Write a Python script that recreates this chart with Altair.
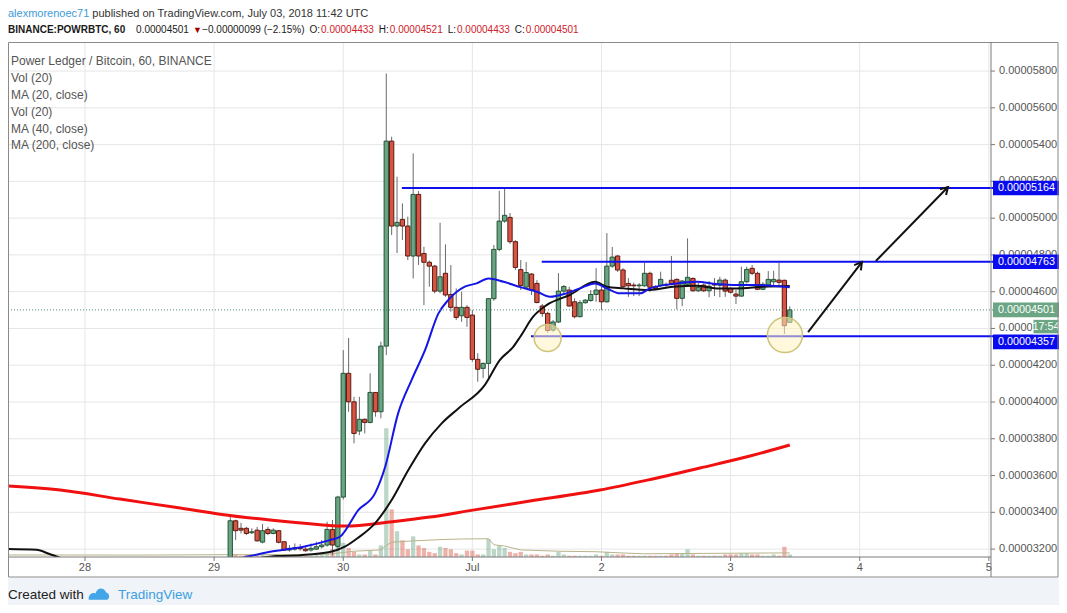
import math
import altair as alt
import pandas as pd

# ------------------------------------------------------------------ data
# hourly candles, hour index counted from 28 Jun 00:00; prices in satoshi
hours = list(range(27, 132))
opens = [3130, 3354, 3313, 3313, 3289, 3303, 3238, 3307, 3285, 3300,
         3240, 3195, 3200, 3204, 3200, 3195, 3200, 3213, 3222, 3307,
         3215, 3483, 4156, 4001, 3842, 3906, 3889, 4052, 3947, 4304,
         5419, 4957, 4993, 4957, 4794, 5129, 4808, 4760, 4739, 4603,
         4700, 4585, 4515, 4469, 4515, 4473, 4232, 4183, 4210, 4562,
         4830, 4984, 5004, 4872, 4720, 4625, 4696, 4645, 4522, 4482,
         4391, 4435, 4603, 4609, 4545, 4464, 4540, 4552, 4585, 4609,
         4545, 4739, 4794, 4718, 4645, 4636, 4632, 4632, 4700, 4627,
         4635, 4640, 4662, 4667, 4564, 4640, 4672, 4605, 4636, 4605,
         4640, 4635, 4663, 4618, 4587, 4576, 4654, 4727, 4700, 4613,
         4636, 4654, 4663, 4662, 4433]
highs = [3380, 3360, 3343, 3321, 3313, 3321, 3336, 3321, 3313, 3303,
         3240, 3222, 3231, 3227, 3213, 3231, 3240, 3249, 3349, 3358,
         3490, 4282, 4348, 4028, 4028, 3910, 4156, 4052, 4328, 5787,
         5443, 5225, 5080, 5008, 5352, 5147, 4844, 4770, 4745, 4975,
         4857, 4745, 4618, 4600, 4527, 4500, 4265, 4215, 4562, 4854,
         5149, 5162, 5028, 4880, 4772, 4761, 4701, 4663, 4533, 4491,
         4446, 4701, 4636, 4627, 4564, 4554, 4560, 4609, 4728, 4627,
         4919, 4843, 4800, 4728, 4674, 4650, 4647, 4757, 4709, 4636,
         4709, 4650, 4794, 4672, 4663, 4890, 4678, 4647, 4645, 4658,
         4674, 4681, 4672, 4625, 4609, 4736, 4736, 4745, 4709, 4652,
         4712, 4714, 4757, 4665, 4521]
lows = [3120, 3249, 3285, 3276, 3282, 3240, 3231, 3276, 3280, 3231,
        3189, 3186, 3191, 3191, 3186, 3186, 3195, 3204, 3213, 3167,
        3190, 3470, 3947, 3775, 3820, 3829, 3884, 3920, 3911, 4255,
        4908, 4810, 4881, 4772, 4672, 4745, 4527, 4627, 4591, 4591,
        4572, 4491, 4446, 4436, 4409, 4219, 4110, 4130, 4120, 4550,
        4820, 4975, 4860, 4718, 4609, 4618, 4582, 4537, 4464, 4377,
        4382, 4430, 4591, 4518, 4455, 4460, 4535, 4545, 4545, 4500,
        4540, 4730, 4708, 4618, 4572, 4576, 4576, 4627, 4600, 4609,
        4627, 4627, 4636, 4504, 4522, 4627, 4600, 4598, 4598, 4570,
        4576, 4570, 4572, 4590, 4533, 4572, 4645, 4690, 4609, 4609,
        4627, 4627, 4627, 4370, 4433]
closes = [3354, 3300, 3303, 3285, 3294, 3245, 3300, 3285, 3303, 3237,
          3195, 3204, 3207, 3202, 3191, 3204, 3213, 3222, 3307, 3222,
          3483, 4156, 4001, 3829, 3906, 3889, 4052, 3947, 4304, 5419,
          4957, 4977, 4957, 4794, 5129, 4794, 4760, 4739, 4603, 4681,
          4582, 4515, 4460, 4515, 4460, 4232, 4178, 4210, 4562, 4830,
          4984, 5015, 4872, 4732, 4633, 4704, 4609, 4541, 4482, 4389,
          4435, 4603, 4628, 4522, 4464, 4540, 4554, 4585, 4609, 4545,
          4739, 4788, 4718, 4627, 4632, 4632, 4636, 4700, 4624, 4618,
          4667, 4636, 4645, 4564, 4658, 4678, 4605, 4624, 4605, 4630,
          4636, 4663, 4603, 4597, 4576, 4654, 4721, 4700, 4613, 4640,
          4667, 4667, 4651, 4415, 4501]
volumes = [5, 2, 1, 2, 1, 2, 2, 1, 1, 2,
           2, 1, 1, 1, 1, 1, 2, 2, 3, 6,
           13, 11, 7, 4, 2, 2, 5, 2, 9, 100,
           37, 20, 13, 6, 16, 9, 7, 4, 3, 8,
           7, 6, 3, 2, 5, 5, 2, 2, 14, 6,
           9, 7, 4, 3, 4, 2, 2, 2, 1, 2,
           1, 4, 2, 1, 1, 1, 1, 1, 2, 1,
           4, 2, 2, 2, 1, 1, 1, 1, 1, 1,
           1, 1, 2, 3, 3, 6, 2, 1, 1, 1,
           1, 1, 2, 2, 2, 3, 3, 2, 2, 1,
           1, 2, 1, 8, 2]

vol_ma_h = [-14.5, 10, 27, 44, 47, 50, 55, 56, 57, 61, 66, 70, 75, 76, 78,
            81, 88, 95, 100, 104, 115, 131]
vol_ma_v = [1.6, 1.5, 1.8, 1.9, 3.0, 4.5, 5.5, 9.0, 11.5, 12.5, 13.5, 14.0,
            14.2, 9.5, 8.5, 5.5, 4.5, 4.1, 3.1, 2.5, 2.8, 3.2]

ma20_h = [25, 30.7, 34.4, 40.6, 45.5, 47.4, 50.8, 53.9, 55.8, 58.2, 60.7,
          63.2, 65.7, 67.5, 70.6, 72.8, 75.0, 77.8, 80.9, 84.0, 86.4, 89.5,
          92.0, 94.8, 97.0, 99.4, 103.2, 105.0, 109.3, 113.7, 117.4, 121.1,
          124.8, 131.0]
ma20_v = [3120, 3162, 3185, 3213, 3249, 3267, 3412, 3503, 3648, 3938, 4119,
          4282, 4482, 4554, 4627, 4645, 4672, 4654, 4625, 4600, 4572, 4591,
          4618, 4645, 4618, 4591, 4591, 4618, 4642, 4654, 4642, 4636,
          4636, 4624]

ma40_h = [-14.5, -9, -6.5, -2, 10, 25, 35.7, 40.0, 45.5, 48.3, 50.7, 53.9,
          57.0, 60.1, 63.2, 66.3, 69.4, 74.3, 77.1, 79.6, 80.9, 83.3, 85.8,
          90.1, 94.8, 97.0, 100.1, 105.0, 109.3, 113.7, 117.4, 121.1, 126.1,
          131.0]
ma40_v = [3200, 3196, 3172, 3130, 3100, 3120, 3162, 3167, 3184, 3213, 3260,
          3340, 3467, 3630, 3775, 3884, 3965, 4092, 4228, 4300, 4355, 4464,
          4527, 4582, 4654, 4627, 4618, 4609, 4627, 4632, 4618, 4618, 4627,
          4631]

ma200_h = [-14.5, -4.6, 6.5, 17.7, 25.1, 34.4, 43.7, 48.3, 57.1, 64.1, 72.1,
           82.7, 95.7, 104.5, 114.3, 123.6, 131.0]
ma200_v = [3543, 3521, 3472, 3423, 3390, 3358, 3333, 3325, 3349, 3374, 3412,
           3461, 3521, 3575, 3641, 3706, 3766]

# drawn levels (start hour, price); the lowest price tag is pushed down on the scale
level_start = [58.9, 84.9, 82.9]
level_price = [5164, 4763, 4357]
level_tag_shift_px = [0, 0, 5.5]
last_price = 4501
countdown = "17:54"

# arrows (hour, price)
arrow_h1 = [134.4, 147.0]
arrow_p1 = [4380, 4767]
arrow_h2 = [144.4, 160.4]
arrow_p2 = [4761, 5169]

# highlighted lows (hour, price, diameter in px)
circle_h = [86.0, 130.1]
circle_p = [4348, 4364]
circle_d = [27, 35]

day_ticks = [0, 24, 48, 72, 96, 120, 144, 168]
day_labels = ["28", "29", "30", "Jul", "2", "3", "4", "5"]
price_ticks = list(range(3200, 5801, 200))

assert len(opens) == len(highs) == len(lows) == len(closes) == len(volumes) == len(hours)

# ------------------------------------------------------------------ layout
SAT = 1e-8
PLOT_W, PLOT_H = 983, 515
X_DOM = [-14.31, 168.4]
Y_DOM_SAT = [3157, 5958]
VOL_MAX = 400          # volume pane: full plot height would equal this volume
px_per_h = PLOT_W / (X_DOM[1] - X_DOM[0])
sat_per_px = (Y_DOM_SAT[1] - Y_DOM_SAT[0]) / PLOT_H
vol_to_sat = (PLOT_H / VOL_MAX) * sat_per_px

FONT = "Liberation Sans, Arial, sans-serif"
AXFONT = "Liberation Sans, Arial, sans-serif"
GRID = "#e6e6e6"
AXCOL = "#7a7a7a"
LABCOL = "#555555"

ARIAL = {" ": 278, ".": 278, ",": 278, ":": 278, "(": 333, ")": 333, "%": 889,
         "\u2212": 584, "-": 333, "/": 278, "\u25bc": 700,
         "A": 667, "B": 667, "C": 722, "D": 722, "E": 667, "H": 722, "I": 278,
         "L": 556, "N": 722, "O": 778, "P": 667, "R": 722, "T": 611, "U": 722,
         "V": 667, "W": 944, "J": 500,
         "a": 556, "b": 556, "c": 500, "d": 556, "e": 556, "f": 278, "g": 556,
         "h": 556, "i": 222, "l": 222, "m": 833, "n": 556, "o": 556, "p": 556,
         "r": 333, "s": 500, "t": 278, "u": 556, "v": 500, "w": 722, "x": 500,
         "y": 500}

def tw(s, size, bold=False):
    return sum(ARIAL.get(ch, 556) for ch in s) / 1000.0 * size * (1.07 if bold else 1.0)

xs = alt.Scale(domain=X_DOM, nice=False, zero=False)
ys = alt.Scale(domain=[v * SAT for v in Y_DOM_SAT], nice=False, zero=False)

def X(f):
    return alt.X(f, type="quantitative", scale=xs, axis=None)

def Y(f):
    return alt.Y(f, type="quantitative", scale=ys, axis=None)

# ---------------- axes drawn from the tick lists through the scales
xt = pd.DataFrame({"h": day_ticks, "lab": day_labels})
yt = pd.DataFrame({"p": [v * SAT for v in price_ticks],
                   "lab": ["%.8f" % (v * SAT) for v in price_ticks]})
x_grid = alt.Chart(xt).mark_rule(color=GRID, strokeWidth=1).encode(
    x=X("h"), y=alt.value(0), y2=alt.value(PLOT_H))
y_grid = alt.Chart(yt).mark_rule(color=GRID, strokeWidth=1).encode(
    y=Y("p"), x=alt.value(0), x2=alt.value(PLOT_W))
x_ticks = alt.Chart(xt).mark_rule(color=AXCOL, strokeWidth=1).encode(
    x=X("h"), y=alt.value(PLOT_H), y2=alt.value(PLOT_H + 4))
x_labels = alt.Chart(xt).mark_text(baseline="middle", align="center", font=AXFONT,
                                   fontSize=11, color=LABCOL).encode(
    x=X("h"), y=alt.value(PLOT_H + 11), text="lab:N")
y_ticks = alt.Chart(yt).mark_rule(color=AXCOL, strokeWidth=1).encode(
    y=Y("p"), x=alt.value(PLOT_W), x2=alt.value(PLOT_W + 4))
y_labels = alt.Chart(yt).mark_text(baseline="middle", align="left", font=AXFONT,
                                   fontSize=11, color=LABCOL).encode(
    y=Y("p"), x=alt.value(PLOT_W + 8), text="lab:N")

cdf = pd.DataFrame({"h": hours, "o": opens, "hi": highs, "lo": lows, "c": closes, "vol": volumes})
cdf["dir"] = ["up" if c >= o else "down" for o, c in zip(cdf.o, cdf.c)]
cdf["x0"] = cdf.h - 0.4
cdf["x1"] = cdf.h + 0.4
cdf["top"] = cdf[["o", "c"]].max(axis=1) * SAT
cdf["bot"] = cdf[["o", "c"]].min(axis=1) * SAT
cdf["hi_p"] = cdf.hi * SAT
cdf["lo_p"] = cdf.lo * SAT
cdf["v0"] = Y_DOM_SAT[0] * SAT
cdf["v1"] = (Y_DOM_SAT[0] + cdf.vol * vol_to_sat) * SAT

dir_scale_fill = alt.Scale(domain=["up", "down"], range=["#6ba583", "#d75442"])
dir_scale_stroke = alt.Scale(domain=["up", "down"], range=["#225437", "#5b1a13"])

vol_bars = alt.Chart(cdf).mark_rect(opacity=0.45, clip=True).encode(
    x=X("x0"), x2="x1", y=Y("v1"), y2="v0",
    fill=alt.Fill("dir:N", scale=dir_scale_fill, legend=None))
vma = pd.DataFrame({"h": vol_ma_h, "p": [(Y_DOM_SAT[0] + v * vol_to_sat) * SAT for v in vol_ma_v]})
vol_ma = alt.Chart(vma).mark_line(color="#b8b48a", strokeWidth=1, clip=True).encode(
    x=X("h"), y=Y("p"))

wicks = alt.Chart(cdf).mark_rule(color="#6a6a6a", strokeWidth=1, clip=True).encode(
    x=X("h"), y=Y("lo_p"), y2="hi_p")

bodies = alt.Chart(cdf).mark_rect(strokeWidth=1, clip=True).encode(
    x=X("x0"), x2="x1", y=Y("top"), y2="bot",
    fill=alt.Fill("dir:N", scale=dir_scale_fill, legend=None),
    stroke=alt.Stroke("dir:N", scale=dir_scale_stroke, legend=None))

def ma_line(hs, vs, color, width):
    d = pd.DataFrame({"h": hs, "p": [v * SAT for v in vs]})
    return alt.Chart(d).mark_line(color=color, strokeWidth=width, clip=True,
                                  interpolate="monotone").encode(x=X("h"), y=Y("p"))

ma200 = ma_line(ma200_h, ma200_v, "#f01010", 3)
ma40 = ma_line(ma40_h, ma40_v, "#111111", 2)
ma20 = ma_line(ma20_h, ma20_v, "#1515e6", 2)

HALF_TAG = 7.3
lvl = pd.DataFrame({"h": level_start, "p": [v * SAT for v in level_price],
                    "txt": ["%.8f" % (v * SAT) for v in level_price]})
lvl["tag"] = [(v - s * sat_per_px) * SAT for v, s in zip(level_price, level_tag_shift_px)]
lvl["p0"] = lvl.tag - HALF_TAG * sat_per_px * SAT
lvl["p1"] = lvl.tag + HALF_TAG * sat_per_px * SAT
levels = alt.Chart(lvl).mark_rule(color="#1010ee", strokeWidth=2).encode(
    x=X("h"), x2=alt.value(PLOT_W + 2), y=Y("p"))
lvl_box = alt.Chart(lvl).mark_rect(color="#0a0af0").encode(
    x=alt.value(PLOT_W + 2), x2=alt.value(PLOT_W + 68), y=Y("p0"), y2="p1")
lvl_txt = alt.Chart(lvl).mark_text(align="left", baseline="middle", color="white",
                                   font=AXFONT, fontSize=10.8).encode(
    x=alt.value(PLOT_W + 7), y=Y("tag"), text="txt:N")

cur = pd.DataFrame({"p": [last_price * SAT], "txt": ["%.8f" % (last_price * SAT)]})
cur["p0"] = cur.p - HALF_TAG * sat_per_px * SAT
cur["p1"] = cur.p + HALF_TAG * sat_per_px * SAT
cur["q"] = cur.p - 16.7 * sat_per_px * SAT
cur["q0"] = cur.q - HALF_TAG * sat_per_px * SAT
cur["q1"] = cur.q + HALF_TAG * sat_per_px * SAT
cur_line = alt.Chart(cur).mark_rule(color="#4d8a74", strokeWidth=1, strokeDash=[1, 2]).encode(
    x=alt.value(0), x2=alt.value(PLOT_W + 2), y=Y("p"))
cur_box = alt.Chart(cur).mark_rect(color="#6ba583").encode(
    x=alt.value(PLOT_W + 2), x2=alt.value(PLOT_W + 68), y=Y("p0"), y2="p1")
cur_txt = alt.Chart(cur).mark_text(align="left", baseline="middle", color="white",
                                   font=AXFONT, fontSize=10.8).encode(
    x=alt.value(PLOT_W + 7), y=Y("p"), text="txt:N")
cd_box = alt.Chart(cur).mark_rect(color="#6ba583", stroke="white", strokeWidth=1).encode(
    x=alt.value(PLOT_W + 42), x2=alt.value(PLOT_W + 68), y=Y("q0"), y2="q1")
cd_txt = alt.Chart(cur).mark_text(align="center", baseline="middle", color="white",
                                  font=AXFONT, fontSize=10.8, text=countdown).encode(
    x=alt.value(PLOT_W + 55), y=Y("q"))

circ = pd.DataFrame({"h": circle_h, "p": [v * SAT for v in circle_p],
                     "s": [d * d for d in circle_d]})
circles = alt.Chart(circ).mark_point(shape="circle", filled=True, fill="#fff3c0",
                                     fillOpacity=0.55, stroke="#cdc47a", strokeWidth=1.5,
                                     strokeOpacity=1).encode(
    x=X("h"), y=Y("p"), size=alt.Size("s:Q", scale=None))

arr_rows = []
for i in range(len(arrow_h1)):
    arr_rows.append({"id": i, "h": arrow_h1[i], "p": arrow_p1[i] * SAT})
    arr_rows.append({"id": i, "h": arrow_h2[i], "p": arrow_p2[i] * SAT})
arr = pd.DataFrame(arr_rows)
arrows = alt.Chart(arr).mark_line(color="#111", strokeWidth=2).encode(
    x=X("h"), y=Y("p"), detail="id:N")
heads = pd.DataFrame({
    "h": arrow_h2, "p": [v * SAT for v in arrow_p2],
    "ang": [math.degrees(math.atan2((h2 - h1) * px_per_h, (p2 - p1) / sat_per_px))
            for h1, h2, p1, p2 in zip(arrow_h1, arrow_h2, arrow_p1, arrow_p2)]})
arrow_heads = alt.Chart(heads).mark_point(shape="M-0.6,1L0,0L0.6,1", filled=False,
                                          stroke="#111", strokeWidth=2, size=200,
                                          opacity=1).encode(
    x=X("h"), y=Y("p"), angle=alt.Angle("ang:Q", scale=None))

one = pd.DataFrame({"a": [0]})

def label(text, x, y, color="#333", size=12, font=FONT, weight="normal", align="left"):
    return alt.Chart(one).mark_text(text=text, align=align, baseline="middle", font=font,
                                    fontSize=size, fontWeight=weight, color=color).encode(
        x=alt.value(x), y=alt.value(y))

RED = "#d0202a"
DARK = "#1a1a1a"
header = []
# line 1
H1 = 11
user = "alexmorenoec71"
header.append(label(user, 0, -28, color="#3d9ad8", size=H1))
header.append(label("published on TradingView.com, July 03, 2018 11:42 UTC",
                    tw(user, H1) + 3, -28, color="#333", size=H1))
# line 2
H2 = 10
segs = [("BINANCE:POWRBTC, 60", DARK, True, 5), ("0.00004501", DARK, False, 4),
        ("\u25bc", "#a00000", False, 3), ("\u22120.00000099 (\u22122.15%)", DARK, False, 5),
        ("O:", DARK, False, 1), ("0.00004433", RED, False, 5),
        ("H:", DARK, False, 1), ("0.00004521", RED, False, 5),
        ("L:", DARK, False, 1), ("0.00004433", RED, False, 5),
        ("C:", DARK, False, 1), ("0.00004501", RED, False, 0)]
cx = 0.0
for text, col, bold, gap in segs:
    sz = 9 if text == "\u25bc" else H2
    header.append(label(text, cx, -12, color=col, size=sz, weight="bold" if bold else "normal"))
    cx += tw(text, sz, bold) + gap

legend_lines = ["Power Ledger / Bitcoin, 60, BINANCE", "Vol (20)", "MA (20, close)",
                "Vol (20)", "MA (40, close)", "MA (200, close)"]
legend_y = [19, 36, 53, 70, 87, 103]
legend = [label(t, 3, y, color="#555", size=12) for t, y in zip(legend_lines, legend_y)]

footer_bg = alt.Chart(one).mark_rect(color="#f0f3f7").encode(
    x=alt.value(0), x2=alt.value(1051), y=alt.value(536), y2=alt.value(565))
frame = alt.Chart(one).mark_rect(filled=False, stroke="#8a8a8a", strokeWidth=1).encode(
    x=alt.value(0.5), x2=alt.value(1050), y=alt.value(0.5), y2=alt.value(535))
sep = alt.Chart(one).mark_rule(color=AXCOL, strokeWidth=1).encode(
    x=alt.value(PLOT_W), y=alt.value(0), y2=alt.value(535))
x_domain = alt.Chart(one).mark_rule(color=AXCOL, strokeWidth=1).encode(
    x=alt.value(0), x2=alt.value(PLOT_W), y=alt.value(PLOT_H))
logo = alt.Chart(one).mark_point(
    shape="M-1,0.55C-1.05,0.05 -0.65,-0.2 -0.35,-0.05C-0.2,-0.6 0.45,-0.75 0.7,-0.15C1.05,-0.1 1.1,0.55 0.75,0.55Z",
    filled=True, fill="#42a5e8", size=420, opacity=1).encode(x=alt.value(91), y=alt.value(552))
footer = [
    label("Created with", 0, 553, color="#222", size=13.5),
    label("TradingView", 110, 553, color="#3ba0e0", size=13.5),
]

chart = alt.layer(
    footer_bg, x_grid, y_grid, vol_bars, vol_ma, wicks, bodies, ma200, ma40, ma20,
    cur_line, levels, circles, arrows, arrow_heads,
    x_domain, x_ticks, x_labels, y_ticks, y_labels,
    lvl_box, lvl_txt, cur_box, cur_txt, cd_box, cd_txt, frame, sep, logo,
    *header, *legend, *footer
).resolve_scale(fill="independent", stroke="independent").properties(
    width=PLOT_W, height=PLOT_H,
    padding={"left": 0, "top": 34, "right": 68, "bottom": 48},
    autosize=alt.AutoSizeParams(type="none"),
    background="white",
).configure_view(stroke=None)

chart.save("out.html", embed_options={"renderer": "svg", "actions": False})
